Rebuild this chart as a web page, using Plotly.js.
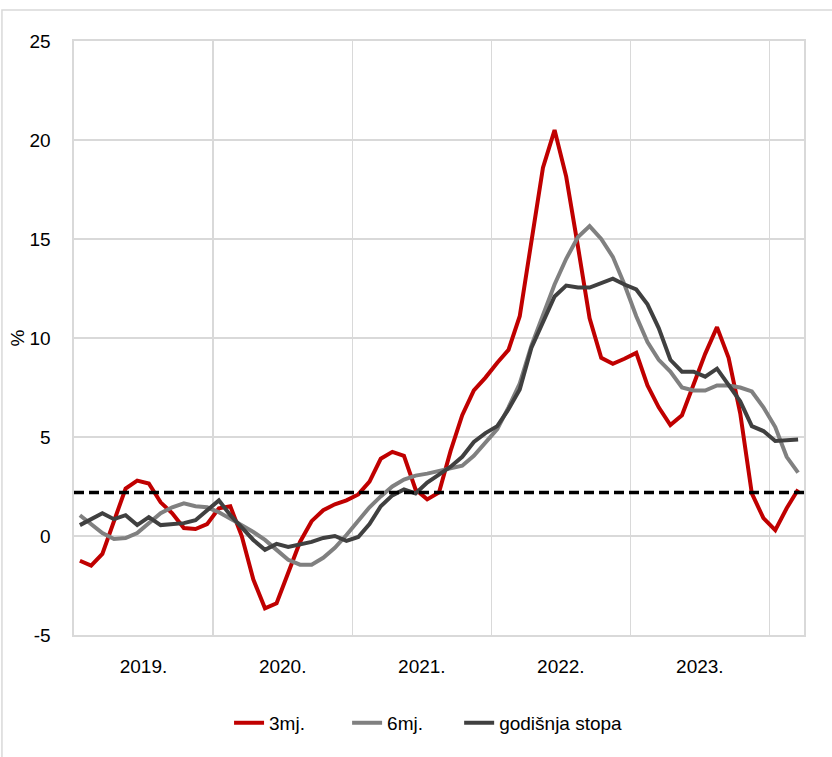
<!DOCTYPE html>
<html>
<head>
<meta charset="utf-8">
<script src="https://cdn.plot.ly/plotly-3.0.1.min.js"></script>
<style>html,body{margin:0;padding:0;background:#fff;}#chart{width:832px;height:757px;}</style>
</head>
<body>
<div id="chart"></div>
<script>
// Months: January 2019 – March 2024
const months = [
  "2019-01","2019-02","2019-03","2019-04","2019-05","2019-06","2019-07","2019-08","2019-09","2019-10","2019-11","2019-12",
  "2020-01","2020-02","2020-03","2020-04","2020-05","2020-06","2020-07","2020-08","2020-09","2020-10","2020-11","2020-12",
  "2021-01","2021-02","2021-03","2021-04","2021-05","2021-06","2021-07","2021-08","2021-09","2021-10","2021-11","2021-12",
  "2022-01","2022-02","2022-03","2022-04","2022-05","2022-06","2022-07","2022-08","2022-09","2022-10","2022-11","2022-12",
  "2023-01","2023-02","2023-03","2023-04","2023-05","2023-06","2023-07","2023-08","2023-09","2023-10","2023-11","2023-12",
  "2024-01","2024-02","2024-03"
];

// 3-month annualised rate (%)
const rate3m = [
  -1.25, -1.5, -0.9, 0.8, 2.4, 2.8, 2.65, 1.7, 1.15, 0.4, 0.35, 0.6,
  1.4, 1.5, 0.0, -2.2, -3.65, -3.4, -1.9, -0.3, 0.75, 1.3, 1.6, 1.8,
  2.1, 2.75, 3.9, 4.25, 4.05, 2.35, 1.85, 2.2, 4.3, 6.1, 7.35, 8.0,
  8.75, 9.4, 11.1, 14.9, 18.6, 20.5, 18.15, 14.6, 11.0, 9.0, 8.7, 8.95,
  9.25, 7.6, 6.5, 5.6, 6.1, 7.65, 9.2, 10.55, 9.0, 6.2, 2.15, 0.9,
  0.3, 1.4, 2.35
];

// 6-month annualised rate (%)
const rate6m = [
  1.05, 0.6, 0.15, -0.15, -0.1, 0.15, 0.65, 1.15, 1.45, 1.65, 1.5, 1.45,
  1.2, 0.9, 0.55, 0.2, -0.2, -0.7, -1.2, -1.45, -1.45, -1.1, -0.6, 0.05,
  0.8, 1.45, 2.0, 2.5, 2.85, 3.05, 3.15, 3.3, 3.4, 3.55, 4.05, 4.7,
  5.4, 6.5, 7.7, 9.6, 11.2, 12.7, 14.0, 15.1, 15.65, 15.0, 14.1, 12.7,
  11.1, 9.8, 8.9, 8.3, 7.5, 7.35, 7.35, 7.6, 7.6, 7.5, 7.3, 6.5,
  5.5, 4.0, 3.2
];

// Annual rate (%)
const rateAnnual = [
  0.55, 0.85, 1.15, 0.85, 1.05, 0.55, 0.95, 0.55, 0.6, 0.65, 0.8, 1.3,
  1.8, 1.05, 0.4, -0.2, -0.7, -0.4, -0.55, -0.4, -0.3, -0.1, 0.0, -0.25,
  -0.05, 0.6, 1.5, 2.05, 2.35, 2.15, 2.7, 3.1, 3.5, 4.0, 4.75, 5.2,
  5.55, 6.4, 7.4, 9.5, 10.8, 12.1, 12.65, 12.55, 12.55, 12.75, 13.0, 12.7,
  12.45, 11.7, 10.5, 8.9, 8.3, 8.3, 8.05, 8.45, 7.6, 6.8, 5.55, 5.3,
  4.8, 4.82, 4.88
];

const seriesNames = ["3mj.", "6mj.", "godišnja stopa"];
const referenceLevel = 2.2;
const yTicks = [-5, 0, 5, 10, 15, 20, 25];
const yTickLabels = ["-5", "0", "5", "10", "15", "20", "25"];

const FONT = "Liberation Sans, Arial, sans-serif";
const GRID = "#D9D9D9";
const FS = 19;

function lineTrace(y, name, color, legendId) {
  return {
    type: "scatter", mode: "lines",
    x: months, y: y, name: name, legend: legendId,
    xperiod: "M1", xperiodalignment: "middle",
    line: {color: color, width: 4, shape: "linear"},
    hoverinfo: "skip"
  };
}

const data = [
  lineTrace(rate3m, seriesNames[0], "#C00000", "legend"),
  lineTrace(rate6m, seriesNames[1], "#808080", "legend2"),
  lineTrace(rateAnnual, seriesNames[2], "#404040", "legend3")
];

function legendAt(xPaper) {
  return {
    orientation: "h", x: xPaper, xanchor: "left", y: -0.148, yanchor: "middle",
    font: {family: FONT, size: FS, color: "#000000"},
    bgcolor: "rgba(0,0,0,0)"
  };
}

const layout = {
  width: 832, height: 757,
  margin: {l: 74, r: 28.3, t: 41, b: 122, pad: 0},
  paper_bgcolor: "#ffffff", plot_bgcolor: "#ffffff",
  font: {family: FONT, size: FS, color: "#000000"},
  showlegend: true,
  legend: legendAt(0.2124),
  legend2: legendAt(0.3741),
  legend3: legendAt(0.5276),
  xaxis: {
    type: "date",
    range: ["2019-01-01", "2024-04-01"],
    tickmode: "linear", tick0: "2019-01-01", dtick: "M12",
    ticklabelmode: "period", tickformat: "%Y.",
    showgrid: true, gridcolor: GRID, gridwidth: 1.6,
    showline: true, mirror: true, linecolor: GRID, linewidth: 1.6,
    zeroline: false, ticks: "",
    ticklabelstandoff: 14,
    tickfont: {family: FONT, size: FS, color: "#000000"},
    fixedrange: true
  },
  yaxis: {
    range: [-5, 25], tickmode: "array", tickvals: yTicks, ticktext: yTickLabels,
    showgrid: true, gridcolor: GRID, gridwidth: 1.6,
    showline: true, mirror: true, linecolor: GRID, linewidth: 1.6,
    zeroline: false, ticks: "",
    ticklabelstandoff: 18,
    tickfont: {family: FONT, size: FS, color: "#000000"},
    title: {text: "%", font: {family: FONT, size: FS, color: "#000000"}, standoff: 0},
    fixedrange: true
  },
  shapes: [
    {
      type: "line", xref: "paper", x0: 0, x1: 1, yref: "y", y0: referenceLevel, y1: referenceLevel,
      line: {color: "#000000", width: 3.4, dash: "10px,5px"}, layer: "above"
    },
    {
      type: "rect", xref: "paper", yref: "paper",
      x0: -0.0987, x1: 1.3, y0: -0.6, y1: 1.0522,
      line: {color: GRID, width: 1.5}, fillcolor: "rgba(0,0,0,0)", layer: "below"
    }
  ]
};

Plotly.newPlot("chart", data, layout, {displayModeBar: false, staticPlot: true});
</script>
</body>
</html>
